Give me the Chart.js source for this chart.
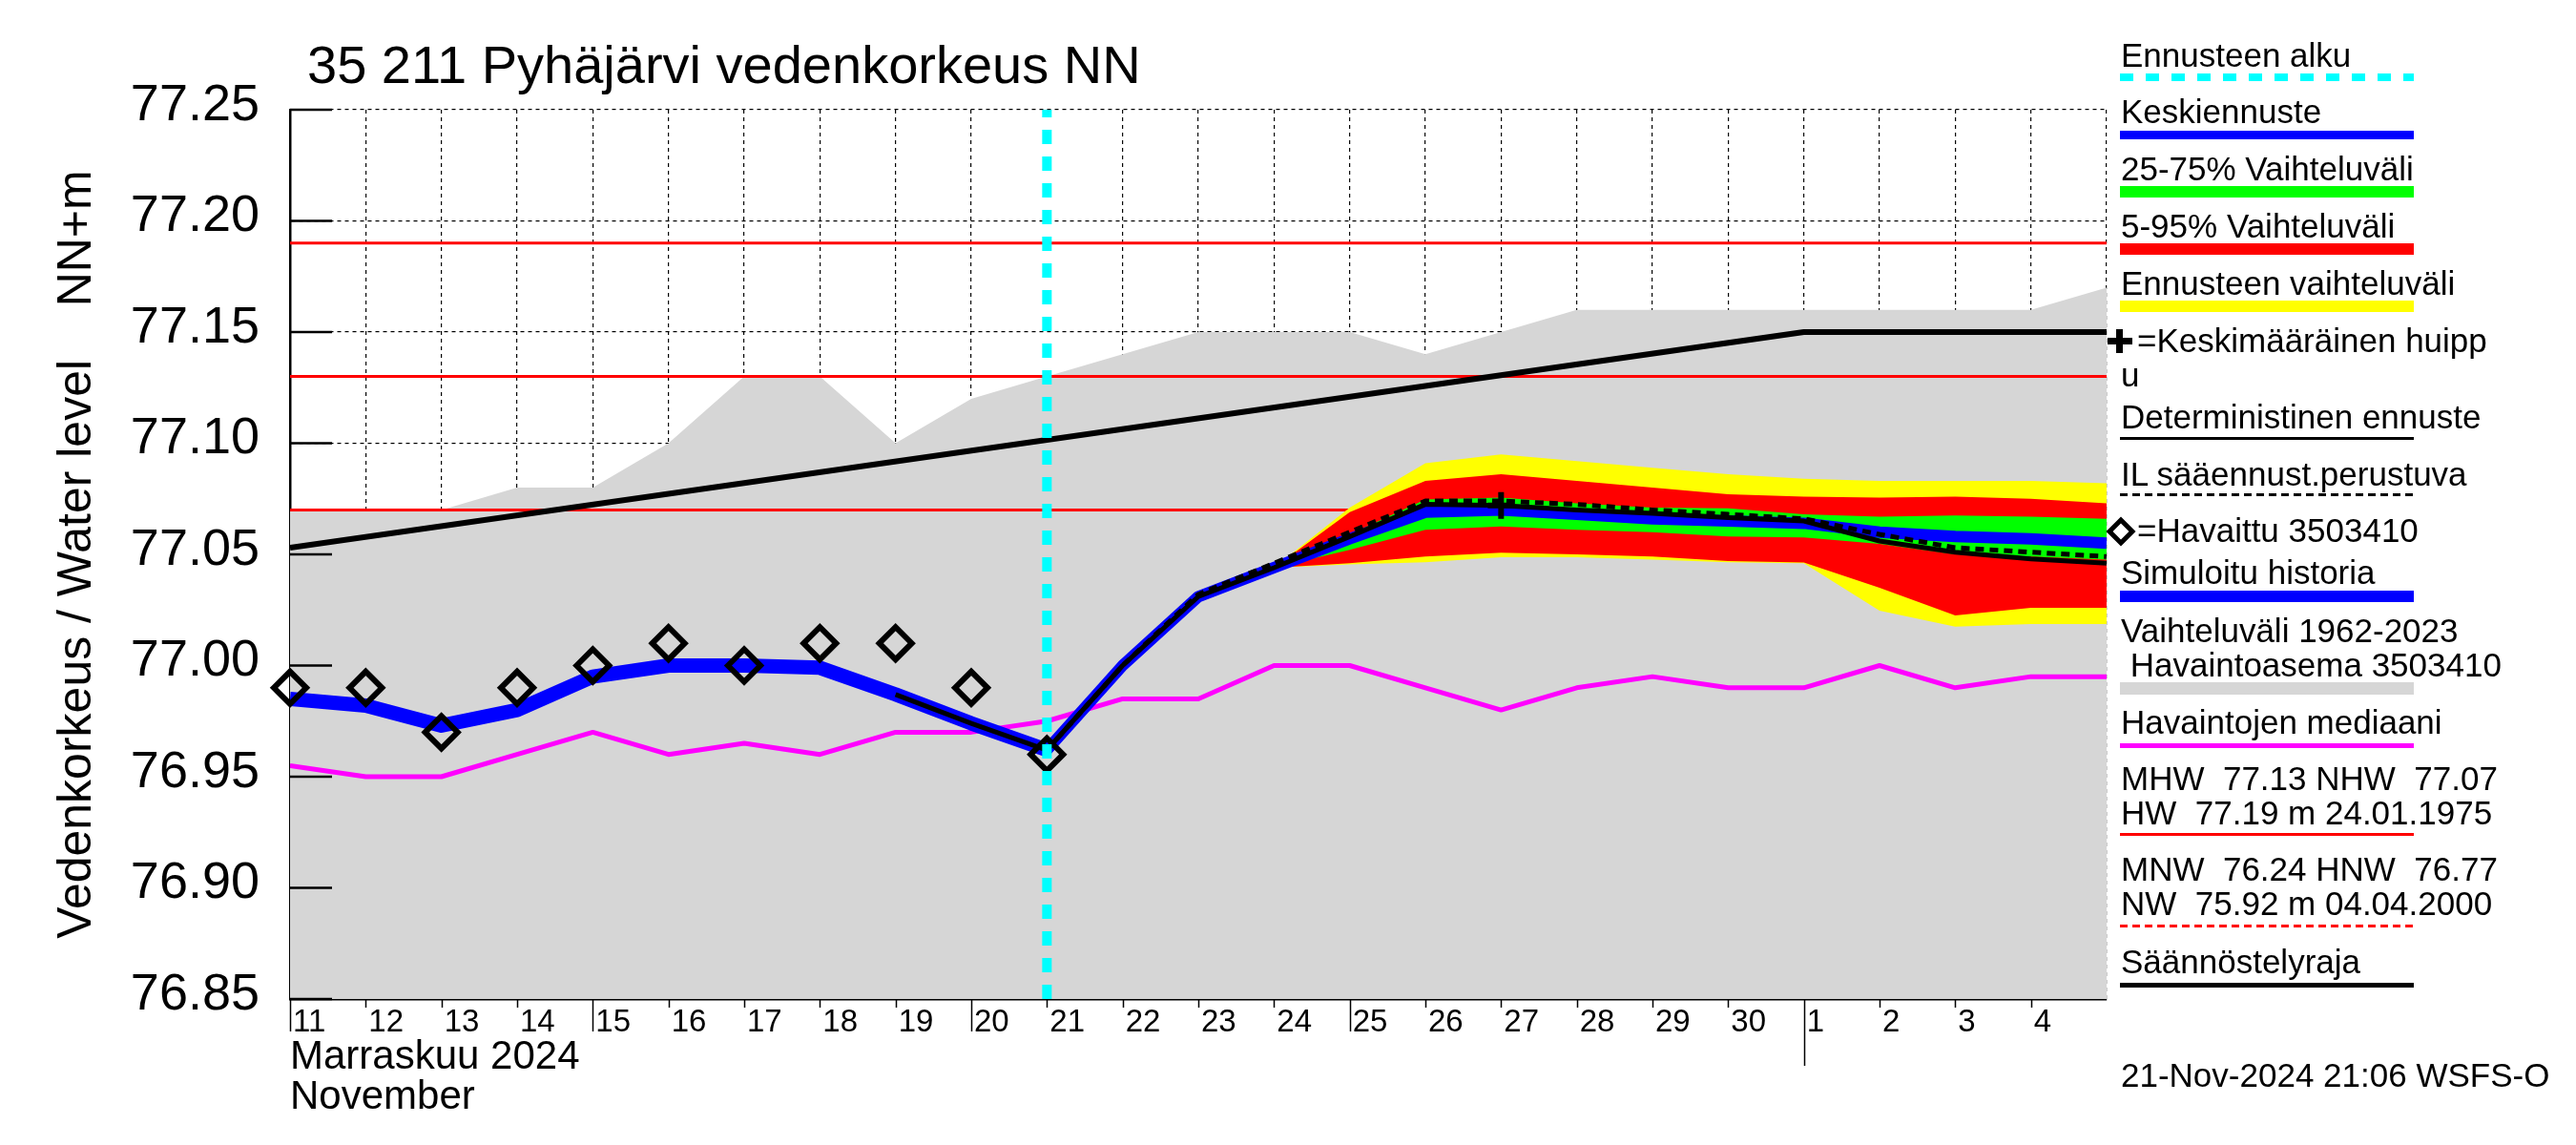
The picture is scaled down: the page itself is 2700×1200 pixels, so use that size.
<!DOCTYPE html>
<html>
<head>
<meta charset="utf-8">
<script src="https://cdn.jsdelivr.net/npm/chart.js"></script>
<style>
body { margin: 0; background: #fff; }
#wrap { position: relative; width: 2700px; height: 1200px; font-family: 'Liberation Sans', Arial, sans-serif; color: #000; }
#c { position: absolute; left: 0; top: 0; }
.title { position: absolute; left: 322px; top: 40px; font-size: 56px; line-height: 56px; white-space: pre; }
.lg { position: absolute; left: 2223px; font-size: 35px; line-height: 36px; white-space: pre; }
.sw { position: absolute; left: 2222px; width: 308px; }
</style>
</head>
<body>
<div id="wrap">
  <canvas id="c" width="2700" height="1200"></canvas>
  <div class="title">35 211 Pyhäjärvi vedenkorkeus NN</div>

  <div class="lg" style="top:40px">Ennusteen alku</div>
  <div class="sw" style="top:77px;height:8px;background:repeating-linear-gradient(90deg,#00ffff 0 14px,transparent 14px 27px)"></div>

  <div class="lg" style="top:99px">Keskiennuste</div>
  <div class="sw" style="top:137px;height:9px;background:#0000ff"></div>

  <div class="lg" style="top:159px">25-75% Vaihteluväli</div>
  <div class="sw" style="top:195px;height:12px;background:#00ff00"></div>

  <div class="lg" style="top:219px">5-95% Vaihteluväli</div>
  <div class="sw" style="top:255px;height:12px;background:#ff0000"></div>

  <div class="lg" style="top:279px">Ennusteen vaihteluväli</div>
  <div class="sw" style="top:315px;height:12px;background:#ffff00"></div>

  <div style="position:absolute;left:2209px;top:354px;width:26px;height:7px;background:#000"></div>
  <div style="position:absolute;left:2218px;top:345px;width:7px;height:25px;background:#000"></div>
  <div class="lg" style="top:339px;left:2240px">=Keskimääräinen huipp</div>
  <div class="lg" style="top:375px">u</div>

  <div class="lg" style="top:419px">Deterministinen ennuste</div>
  <div class="sw" style="top:458px;height:3px;background:#000"></div>

  <div class="lg" style="top:479px">IL sääennust.perustuva</div>
  <div class="sw" style="top:517px;height:3px;background:repeating-linear-gradient(90deg,#000 0 8px,transparent 8px 13px)"></div>

  <div style="position:absolute;left:2212px;top:546px;width:22px;height:22px;box-sizing:border-box;border:5px solid #000;transform:rotate(45deg)"></div>
  <div class="lg" style="top:538px;left:2240px">=Havaittu 3503410</div>

  <div class="lg" style="top:582px">Simuloitu historia</div>
  <div class="sw" style="top:619px;height:12px;background:#0000ff"></div>

  <div class="lg" style="top:643px">Vaihteluväli 1962-2023
 Havaintoasema 3503410</div>
  <div class="sw" style="top:715px;height:13px;background:#d6d6d6"></div>

  <div class="lg" style="top:739px">Havaintojen mediaani</div>
  <div class="sw" style="top:779px;height:5px;background:#ff00ff"></div>

  <div class="lg" style="top:798px">MHW  77.13 NHW  77.07
HW  77.19 m 24.01.1975</div>
  <div class="sw" style="top:873px;height:3px;background:#ff0000"></div>

  <div class="lg" style="top:893px">MNW  76.24 HNW  76.77
NW  75.92 m 04.04.2000</div>
  <div class="sw" style="top:969px;height:3px;background:repeating-linear-gradient(90deg,#ff0000 0 8px,transparent 8px 13px)"></div>

  <div class="lg" style="top:990px">Säännöstelyraja</div>
  <div class="sw" style="top:1030px;height:5px;background:#000"></div>

  <div class="lg" style="top:1109px">21-Nov-2024 21:06 WSFS-O</div>
</div>
<script>
// x = days from 11.11.2024 00:00
const dayIdx = [0, 1, 2, 3, 4, 5, 6, 7, 8, 9, 10, 11, 12, 13, 14, 15, 16, 17, 18, 19, 20, 21, 22, 23, 24];
const dayLabels = ['11', '12', '13', '14', '15', '16', '17', '18', '19', '20', '21', '22', '23', '24', '25', '26', '27', '28', '29', '30', '1', '2', '3', '4', ''];
const longTicks = [0, 4, 9, 14];
const monthTick = 20;
const yTicks = [76.85, 76.90, 76.95, 77.00, 77.05, 77.10, 77.15, 77.20, 77.25];
const forecastStart = 10;

// vaihteluvali 1962-2023 (ylaraja)
const rangeTop = [77.07, 77.07, 77.07, 77.08, 77.08, 77.10, 77.13, 77.13, 77.10, 77.12, 77.13, 77.14, 77.15, 77.15, 77.15, 77.14, 77.15, 77.16, 77.16, 77.16, 77.16, 77.16, 77.16, 77.16, 77.17];
// havaintojen mediaani
const median = [76.955, 76.950, 76.950, 76.960, 76.970, 76.960, 76.965, 76.960, 76.970, 76.970, 76.975, 76.985, 76.985, 77.000, 77.000, 76.990, 76.980, 76.990, 76.995, 76.990, 76.990, 77.000, 76.990, 76.995, 76.995];

// havaittu + simuloitu historia
const histDays = [0, 1, 2, 3, 4, 5, 6, 7, 8, 9, 10];
const observed = [76.99, 76.99, 76.97, 76.99, 77.00, 77.01, 77.00, 77.01, 77.01, 76.99, 76.96];
const simulated = [76.985, 76.982, 76.973, 76.980, 76.995, 77.000, 77.000, 76.999, 76.987, 76.974, 76.962];

// ennusteet
const fcDays = [10, 11, 12, 13, 14, 15, 16, 17, 18, 19, 20, 21, 22, 23, 24];
const meanFc = [76.962, 77.000, 77.031, 77.044, 77.057, 77.069, 77.070, 77.068, 77.066, 77.065, 77.064, 77.060, 77.058, 77.057, 77.055];
const ilFc = [76.962, 77.000, 77.032, 77.046, 77.060, 77.074, 77.074, 77.0725, 77.070, 77.068, 77.066, 77.059, 77.053, 77.051, 77.049];
const detDays = [8, 9, 10, 11, 12, 13, 14, 15, 16, 17, 18, 19, 20, 21, 22, 23, 24];
const determ = [76.987, 76.974, 76.962, 77.000, 77.031, 77.044, 77.058, 77.0725, 77.072, 77.070, 77.0685, 77.0665, 77.065, 77.056, 77.051, 77.048, 77.046];

// vaihteluvalit
const bandDays = [13, 14, 15, 16, 17, 18, 19, 20, 21, 22, 23, 24];
const yelTop = [77.044, 77.071, 77.091, 77.095, 77.092, 77.089, 77.086, 77.084, 77.083, 77.083, 77.083, 77.082];
const redTop = [77.044, 77.069, 77.083, 77.086, 77.083, 77.080, 77.077, 77.076, 77.0755, 77.076, 77.075, 77.073];
const grnTop = [77.044, 77.059, 77.0747, 77.0755, 77.073, 77.071, 77.0707, 77.068, 77.067, 77.0675, 77.067, 77.066];
const grnBot = [77.044, 77.052, 77.061, 77.0626, 77.061, 77.060, 77.058, 77.0576, 77.0547, 77.050, 77.049, 77.0476];
const redBot = [77.044, 77.046, 77.049, 77.0507, 77.050, 77.049, 77.047, 77.0464, 77.035, 77.0225, 77.026, 77.026];
const yelBot = [77.044, 77.0455, 77.0465, 77.0487, 77.0487, 77.0476, 77.0465, 77.046, 77.0247, 77.0175, 77.0187, 77.0187];

// keskimaarainen huippu
const peakDay = [16];
const peakVal = [77.072];

// raja-arvot
const levelDays = [0, 24];
const hwLevel = 77.19;
const mhwLevel = 77.13;
const nhwLevel = 77.07;
const regDays = [0, 20, 24];
const regVals = [77.053, 77.15, 77.15];

Chart.defaults.font.family = "'Liberation Sans', Arial, sans-serif";
Chart.defaults.color = '#000';

function pts(xs, ys) {
    return xs.map((x, i) => ({x: x, y: ys[i]}));
}

function lineDs(label, xs, ys, color, width, order, extra) {
    return Object.assign({
        label: label,
        data: pts(xs, ys),
        borderColor: color,
        borderWidth: width,
        pointRadius: 0,
        fill: false,
        tension: 0,
        borderJoinStyle: 'round',
        clip: 0,
        order: order
    }, extra || {});
}

const clear = 'rgba(0,0,0,0)';

const datasets = [
    lineDs('Vaihteluväli', dayIdx, rangeTop, clear, 0, 30, {fill: 'start', backgroundColor: '#d6d6d6'}),
    lineDs('HW', levelDays, [hwLevel, hwLevel], '#ff0000', 3, 28),
    lineDs('MHW', levelDays, [mhwLevel, mhwLevel], '#ff0000', 3, 28),
    lineDs('NHW', levelDays, [nhwLevel, nhwLevel], '#ff0000', 3, 28),
    lineDs('Säännöstelyraja', regDays, regVals, '#000', 6, 27),
    lineDs('max', bandDays, yelTop, clear, 0, 24, {fill: '+1', backgroundColor: '#ffff00'}),
    lineDs('min', bandDays, yelBot, clear, 0, 24),
    lineDs('95%', bandDays, redTop, clear, 0, 23, {fill: '+1', backgroundColor: '#ff0000'}),
    lineDs('5%', bandDays, redBot, clear, 0, 23),
    lineDs('75%', bandDays, grnTop, clear, 0, 22, {fill: '+1', backgroundColor: '#00ff00'}),
    lineDs('25%', bandDays, grnBot, clear, 0, 22),
    lineDs('Havaintojen mediaani', dayIdx, median, '#ff00ff', 5, 15),
    lineDs('Simuloitu historia', histDays, simulated, '#0000ff', 15, 12),
    lineDs('Keskiennuste', fcDays, meanFc, '#0000ff', 12, 11),
    lineDs('Deterministinen ennuste', detDays, determ, '#000', 5, 10),
    lineDs('IL sääennust.perustuva', fcDays, ilFc, '#000', 5, 9, {borderDash: [9, 6]}),
    {
        label: 'Havaittu',
        data: pts(histDays, observed),
        showLine: false,
        pointStyle: 'rectRot',
        pointRadius: 17,
        pointBorderWidth: 6,
        pointBorderColor: '#000',
        pointBackgroundColor: clear,
        clip: false,
        order: 5
    },
    {
        label: 'Keskimääräinen huippu',
        data: pts(peakDay, peakVal),
        showLine: false,
        pointStyle: 'cross',
        pointRadius: 14,
        pointBorderWidth: 6,
        pointBorderColor: '#000',
        order: 4
    },
    lineDs('Ennusteen alku', [forecastStart, forecastStart], [76.85, 77.25], '#00ffff', 10, 1, {borderDash: [15, 13], borderCapStyle: 'butt'})
];

// tikit akseleille (y sisaan, x alas)
const axisMarks = {
    id: 'axisMarks',
    afterDraw(chart) {
        const ctx = chart.ctx;
        const area = chart.chartArea;
        const x = chart.scales.x;
        const y = chart.scales.y;
        ctx.save();
        ctx.strokeStyle = '#000';
        ctx.lineWidth = 2.5;
        yTicks.forEach((v) => {
            const py = y.getPixelForValue(v);
            ctx.beginPath();
            ctx.moveTo(area.left, py);
            ctx.lineTo(area.left + 44, py);
            ctx.stroke();
        });
        ctx.lineWidth = 1.5;
        dayIdx.forEach((d) => {
            if (d >= 24) return;
            const px = Math.round(x.getPixelForValue(d)) + 0.5;
            let len = 9;
            if (longTicks.includes(d)) len = 34;
            if (d === monthTick) len = 70;
            ctx.beginPath();
            ctx.moveTo(px, area.bottom);
            ctx.lineTo(px, area.bottom + len);
            ctx.stroke();
        });
        ctx.restore();
    }
};

new Chart(document.getElementById('c'), {
    type: 'line',
    data: { datasets: datasets },
    plugins: [axisMarks],
    options: {
        responsive: false,
        devicePixelRatio: 1,
        animation: false,
        events: [],
        layout: { padding: { left: 0, top: 115, right: 492, bottom: 0 } },
        plugins: {
            legend: { display: false },
            tooltip: { enabled: false },
            filler: { propagate: false }
        },
        scales: {
            x: {
                type: 'linear',
                min: 0,
                max: 24,
                z: 1,
                afterBuildTicks: (s) => { s.ticks = dayIdx.map((v) => ({value: v})); },
                afterFit: (s) => { s.height = 153; },
                grid: {
                    color: (c) => (c.tick && c.tick.value === forecastStart) ? clear : '#000',
                    lineWidth: 1.2,
                    drawTicks: false
                },
                border: { display: true, color: '#000', width: 2.5, dash: [4, 4] },
                ticks: {
                    autoSkip: false,
                    maxRotation: 0,
                    minRotation: 0,
                    align: 'start',
                    labelOffset: 3,
                    padding: 8,
                    color: '#000',
                    font: { size: 33, lineHeight: 1 },
                    callback: (v) => dayLabels[v] ?? ''
                },
                title: {
                    display: true,
                    text: ['Marraskuu 2024', 'November'],
                    align: 'start',
                    color: '#000',
                    font: { size: 42, lineHeight: 1.0 },
                    padding: { top: 0, bottom: 29 }
                }
            },
            y: {
                type: 'linear',
                min: 76.85,
                max: 77.25,
                z: 1,
                afterBuildTicks: (s) => { s.ticks = yTicks.map((v) => ({value: v})); },
                afterFit: (s) => { s.width = 304; },
                grid: { color: '#000', lineWidth: 1.2, drawTicks: false },
                border: { display: true, color: '#000', width: 2.5, dash: [4, 4] },
                ticks: {
                    padding: 32,
                    labelOffset: -4,
                    color: '#000',
                    font: { size: 54, lineHeight: 1 },
                    callback: (v) => v.toFixed(2)
                },
                title: {
                    display: true,
                    text: 'Vedenkorkeus / Water level    NN+m',
                    color: '#000',
                    font: { size: 50, lineHeight: 1.2 },
                    padding: { top: 51, bottom: 0 }
                }
            }
        }
    }
});
</script>
</body>
</html>
